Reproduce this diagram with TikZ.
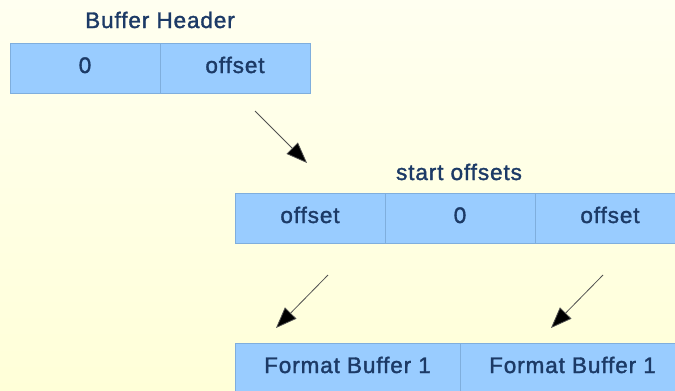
\documentclass[tikz,border=0pt]{standalone}
\usepackage{fontspec}
\setmainfont{Liberation Sans}[LetterSpace=4, FakeBold=1.5]
\usetikzlibrary{arrows.meta}
\definecolor{bgtop}{HTML}{FFFFF0}
\definecolor{bgbot}{HTML}{FFFFD8}
\definecolor{cellfill}{HTML}{99CCFF}
\definecolor{celldraw}{HTML}{7FAEDD}
\definecolor{txt}{HTML}{1C3A66}
\definecolor{arrline}{HTML}{505050}
\tikzset{
  cell/.style={draw=celldraw, line width=0.8pt, fill=cellfill, inner sep=0pt,
    minimum height=50pt, text height=10pt, text depth=0pt, text=txt,
    font=\fontsize{22.5}{26}\selectfont},
  w150/.style={minimum width=150pt},
  w225/.style={minimum width=225pt},
  title/.style={anchor=base, inner sep=0pt, text=txt, font=\fontsize{22.5}{26}\selectfont},
  ptr/.style={draw=arrline, line width=0.8pt,
    -{Triangle[length=21pt, width=16pt, fill=black]}}
}
\begin{document}
\begin{tikzpicture}[x=1pt, y=-1pt]
\useasboundingbox (0,0) rectangle (675,391);
\shade[top color=bgtop, bottom color=bgbot] (0,0) rectangle (675,391);
\clip (0,0) rectangle (675,391);
% Buffer header
\node[title] (th) at (160,28) {Buffer Header};
\node[cell, w150] (h0) at (85,68) {0};
\node[cell, w150] (h1) at (235,68) {offset};
% start offsets
\node[title] (ts) at (459,180) {start offsets};
\node[cell, w150] (s0) at (310,218) {offset};
\node[cell, w150] (s1) at (460,218) {0};
\node[cell, w150] (s2) at (610,218) {offset};
% format buffers
\node[cell, w225] (f0) at (347.5,368) {Format Buffer 1};
\node[cell, w225] (f1) at (572.5,368) {Format Buffer 1};
% arrows
\coordinate (a1s) at (255,111);
\coordinate (a1e) at (307,163);
\coordinate (a2s) at (328,275);
\coordinate (a2e) at (276,328);
\coordinate (a3s) at (603,275);
\coordinate (a3e) at (551,328);
\draw[ptr] (a1s) -- (a1e);
\draw[ptr] (a2s) -- (a2e);
\draw[ptr] (a3s) -- (a3e);
\end{tikzpicture}
\end{document}
